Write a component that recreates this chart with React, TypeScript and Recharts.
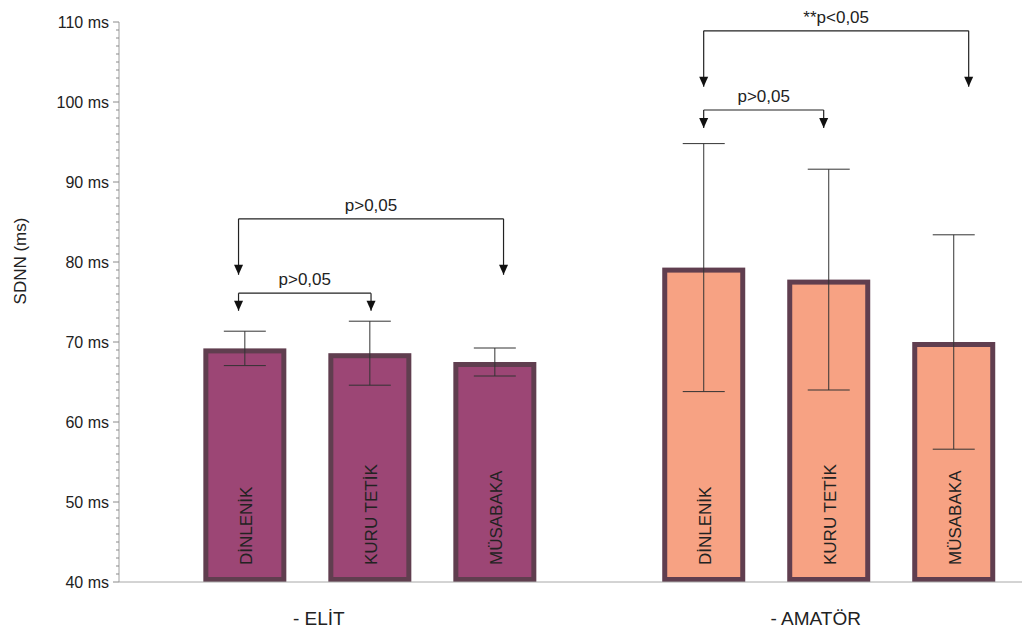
import {
  Bar,
  BarChart,
  ErrorBar,
  LabelList,
  ReferenceDot,
  ReferenceLine,
  XAxis,
  YAxis,
} from "recharts";

const FONT = '"Liberation Sans", Arial, Helvetica, sans-serif';

// SDNN means (ms) and standard deviations per group: [ELİT, AMATÖR]
const groups = ["- ELİT", "- AMATÖR"];
const phases = ["DİNLENİK", "KURU TETİK", "MÜSABAKA"];
const dinlenik = [69.2, 79.3];
const kuruTetik = [68.6, 77.8];
const musabaka = [67.5, 70.0];
const dinlenikSd = [2.15, 15.5];
const kuruTetikSd = [4.0, 13.8];
const musabakaSd = [1.75, 13.4];

// significance brackets: group, bar slots (relative to group centre), line level, arrow tip, text
const brackets = [
  { group: 0, from: -1.05, to: 0.01, level: 76.1, tip: 73.9, text: "p>0,05" },
  { group: 0, from: -1.05, to: 1.07, level: 85.4, tip: 78.4, text: "p>0,05" },
  { group: 1, from: -1.0, to: -0.04, level: 99.0, tip: 96.75, text: "p>0,05" },
  { group: 1, from: -1.0, to: 1.12, level: 108.9, tip: 101.9, text: "**p<0,05" },
];

const yTicks = Array.from({ length: 71 }, (_, i) => 40 + i);

const groupFill = ["#9c4675", "#f7a283"];
const BORDER = "#603e4f";

const CHART_W = 1022;
const CHART_H = 623;
const Y_AXIS_W = 111;
const X_AXIS_H = 49;
const BAR_SIZE = 83;
const BAR_GAP = 42;
const X_DOMAIN: [number, number] = [-0.5465, 1.4387];
// one bar slot expressed in x-axis units
const SLOT = ((BAR_SIZE + BAR_GAP) * (X_DOMAIN[1] - X_DOMAIN[0])) / (CHART_W - Y_AXIS_W);

const data = groups.map((_, i) => ({
  pos: i,
  dinlenik: dinlenik[i],
  dinlenikSd: dinlenikSd[i],
  kuruTetik: kuruTetik[i],
  kuruTetikSd: kuruTetikSd[i],
  musabaka: musabaka[i],
  musabakaSd: musabakaSd[i],
}));

const series = [
  { key: "dinlenik", err: "dinlenikSd", name: phases[0] },
  { key: "kuruTetik", err: "kuruTetikSd", name: phases[1] },
  { key: "musabaka", err: "musabakaSd", name: phases[2] },
];

// bar with its border drawn inside the value rectangle
function FramedBar(props: any) {
  const { x, y, width, height, payload } = props;
  const sw = 5;
  if (height <= sw) return null;
  return (
    <rect
      x={x + sw / 2}
      y={y + sw / 2}
      width={width - sw}
      height={height - sw}
      fill={groupFill[payload.pos]}
      stroke={BORDER}
      strokeWidth={sw}
    />
  );
}

const phaseLabel = (name: string) => (p: any) => {
  const vb = p.viewBox ?? p;
  const cx = vb.x + vb.width / 2 + 7;
  const by = vb.y + vb.height - 17;
  return (
    <text x={cx} y={by} transform={`rotate(-90 ${cx} ${by})`} fontSize={17} fill="#222">
      {name}
    </text>
  );
};

function YTick({ x, y, payload }: any) {
  const v = payload.value;
  const major = v % 10 === 0;
  return (
    <g>
      <line x1={x - (major ? 6 : 3)} x2={x} y1={y} y2={y} stroke="#8a8a8a" />
      {major && (
        <text x={x - 10} y={y} dy={5.5} textAnchor="end" fontSize={16} fill="#222">
          {v} ms
        </text>
      )}
    </g>
  );
}

const xLabelShift = [-51, -13];

function XTick({ x, y, payload, index }: any) {
  return (
    <text x={x + (xLabelShift[index] ?? 0)} y={y + 43} textAnchor="middle" fontSize={19} fill="#222">
      {groups[payload.value]}
    </text>
  );
}

function YTitle({ viewBox }: any) {
  const x = viewBox.x + 17.5;
  const y = viewBox.y + viewBox.height / 2 - 41;
  return (
    <text x={x} y={y} transform={`rotate(-90 ${x} ${y})`} textAnchor="middle" fontSize={17} fill="#222">
      SDNN (ms)
    </text>
  );
}

function Arrow({ cx, cy }: any) {
  return <path d={`M${cx - 4.5},${cy - 10} L${cx + 4.5},${cy - 10} L${cx},${cy} Z`} fill="#111" />;
}

export default function App() {
  const lineProps = { stroke: "#222", strokeWidth: 1.2, ifOverflow: "visible" as const };
  return (
    <div style={{ width: CHART_W, height: CHART_H, fontFamily: FONT, background: "#fff" }}>
      <BarChart
        width={CHART_W}
        height={CHART_H}
        data={data}
        margin={{ top: 14, right: 0, bottom: 0, left: 0 }}
        barGap={BAR_GAP}
      >
        <XAxis
          dataKey="pos"
          type="number"
          domain={X_DOMAIN}
          ticks={[0, 1]}
          tickCount={2}
          allowDataOverflow
          height={X_AXIS_H}
          tickSize={0}
          tickMargin={0}
          tickLine={false}
          axisLine={{ stroke: "#a8a8a8" }}
          tick={<XTick />}
        />
        <YAxis
          domain={[40, 110]}
          ticks={yTicks}
          interval={0}
          allowDataOverflow
          width={Y_AXIS_W}
          tickSize={0}
          tickMargin={0}
          tickLine={false}
          axisLine={{ stroke: "#a0a0a0" }}
          tick={<YTick />}
          label={<YTitle />}
        />
        {series.map((s) => (
          <Bar key={s.key} dataKey={s.key} barSize={BAR_SIZE} shape={<FramedBar />} isAnimationActive={false}>
            <ErrorBar
              dataKey={s.err}
              direction="y"
              width={21}
              stroke="#333"
              strokeWidth={1}
              isAnimationActive={false}
            />
            <LabelList dataKey={s.key} content={phaseLabel(s.name)} />
          </Bar>
        ))}
        {brackets.flatMap((b, i) => {
          const xa = b.group + b.from * SLOT;
          const xb = b.group + b.to * SLOT;
          return [
            <ReferenceLine
              key={`h${i}`}
              segment={[{ x: xa, y: b.level }, { x: xb, y: b.level }]}
              {...lineProps}
              label={{ value: b.text, position: "top", offset: 8, fontSize: 17, fill: "#222" }}
            />,
            <ReferenceLine key={`l${i}`} segment={[{ x: xa, y: b.level }, { x: xa, y: b.tip }]} {...lineProps} />,
            <ReferenceLine key={`r${i}`} segment={[{ x: xb, y: b.level }, { x: xb, y: b.tip }]} {...lineProps} />,
            <ReferenceDot key={`al${i}`} x={xa} y={b.tip} r={0} shape={<Arrow />} ifOverflow="visible" />,
            <ReferenceDot key={`ar${i}`} x={xb} y={b.tip} r={0} shape={<Arrow />} ifOverflow="visible" />,
          ];
        })}
      </BarChart>
    </div>
  );
}
